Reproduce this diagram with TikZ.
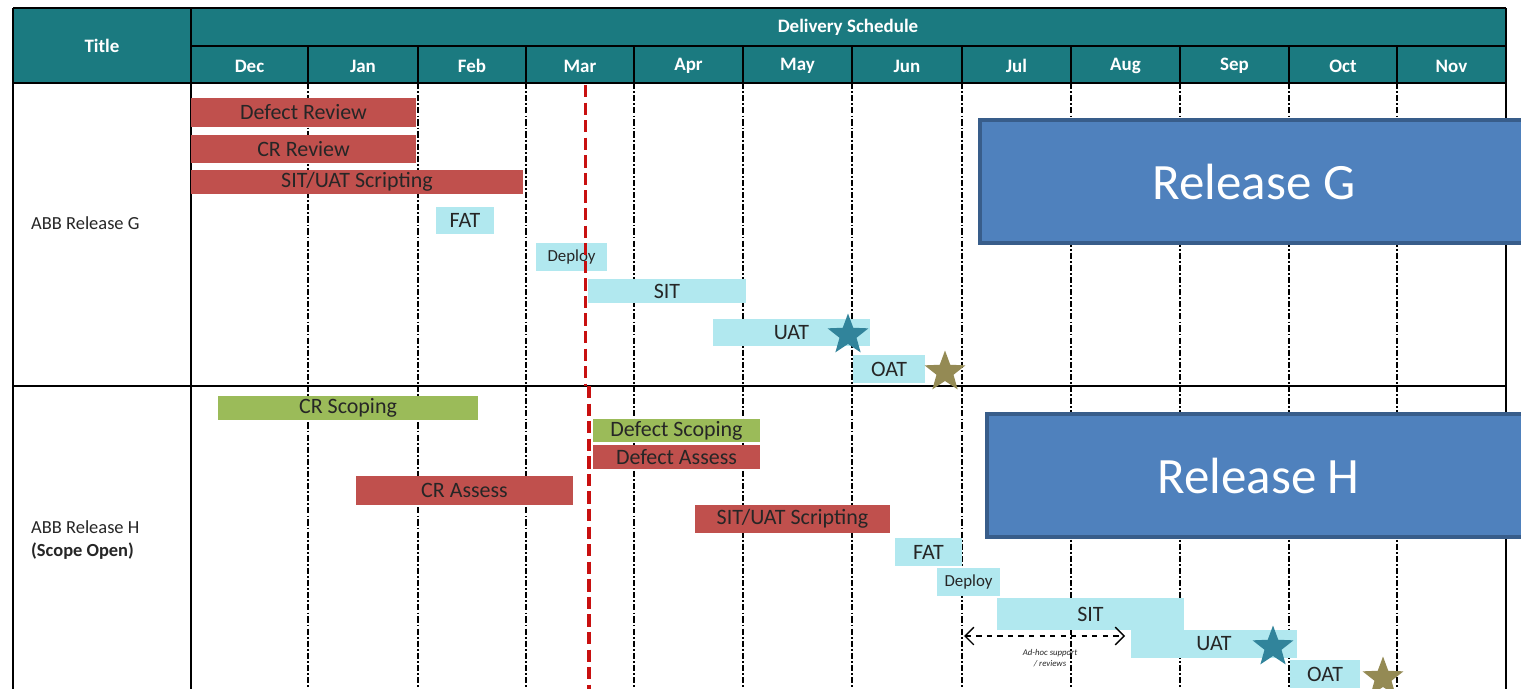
\documentclass[tikz,border=0pt]{standalone}
\usepackage{fontspec}
\setmainfont{Carlito}
\usepackage{tikz}
\usetikzlibrary{shapes.geometric,arrows.meta}

\definecolor{hdrteal}{HTML}{1B7A80}
\definecolor{barred}{HTML}{C0504D}
\definecolor{barcyan}{HTML}{B1E8EF}
\definecolor{bargreen}{HTML}{9BBB59}
\definecolor{relblue}{HTML}{4F81BD}
\definecolor{relborder}{HTML}{385D8A}
\definecolor{starteal}{HTML}{31849B}
\definecolor{starolive}{HTML}{948A54}
\definecolor{txtdark}{HTML}{262626}
\definecolor{todayred}{HTML}{C81010}

\begin{document}
\begin{tikzpicture}[x=0.02cm,y=-0.02cm,
  bar/.style={rectangle,inner sep=0pt,text=txtdark,font=\fontsize{12.5}{14}\selectfont},
  redbar/.style={bar,fill=barred},
  cyanbar/.style={bar,fill=barcyan},
  greenbar/.style={bar,fill=bargreen},
  smalltxt/.style={font=\fontsize{9.6}{11}\selectfont},
  release/.style={rectangle,fill=relblue,draw=relborder,line width=2.3pt,
    text=white,font=\fontsize{29}{32}\selectfont},
  hdrlbl/.style={text=white,font=\bfseries\fontsize{10.8}{12}\selectfont},
  rowlbl/.style={anchor=west,text=txtdark,font=\fontsize{10.5}{12}\selectfont},
  gridline/.style={line width=1pt,dash pattern=on 3.5pt off 1.2pt on 1pt off 1.2pt},
  frame/.style={line width=1.2pt},
  milestone/.style={star,star points=5,star point ratio=2.4,inner sep=0pt,minimum size=0.86cm}]
\clip (0,0) rectangle (1521,689);
\fill[white] (0,0) rectangle (1521,689);

% header
\fill[hdrteal] (13,8) rectangle (1506,83);
\node[hdrlbl] (title) at (102,46) {Title};
\node[hdrlbl] (sched) at (848,27) {Delivery Schedule};
\foreach \m/\xa/\xb in {Dec/191/308,Jan/308/418,Feb/418/526,Mar/526/634,
  Apr/634/743,May/743/852,Jun/852/962,Jul/962/1071,Aug/1071/1180,
  Sep/1180/1289,Oct/1289/1397,Nov/1397/1506}
  \node[hdrlbl] (m\m) at ({(\xa+\xb)/2},66) {\m};
\foreach \xx in {308,418,526,634,743,852,962,1071,1180,1289,1397}
  \draw[frame] (\xx,46) -- (\xx,83);

% grid
\foreach \xx in {308,418,526,634,743,852,962,1071,1180,1289,1397}
  \draw[gridline] (\xx,83) -- (\xx,689);
\draw[frame] (13,8) -- (1506,8);
\draw[frame] (191,46) -- (1506,46);
\draw[frame] (13,83) -- (1506,83);
\draw[frame] (13,386) -- (1506,386);
\draw[frame] (13,8) -- (13,689);
\draw[frame] (191,8) -- (191,689);
\draw[frame] (1506,8) -- (1506,689);

% row labels
\node[rowlbl] (rowg) at (25,223) {ABB Release G};
\node[rowlbl] (rowh) at (25,527) {ABB Release H};
\node[rowlbl,font=\bfseries\fontsize{10.5}{12}\selectfont] (scope) at (25,551) {(Scope Open)};

% release G
\node[redbar,minimum width=4.5cm,minimum height=0.58cm] (drevg) at (303.5,112.5) {Defect Review};
\node[redbar,minimum width=4.5cm,minimum height=0.56cm] (crrevg) at (303.5,149) {CR Review};
\node[redbar,minimum width=6.64cm,minimum height=0.48cm] (scrg) at (357,182) {SIT/UAT Scripting};
\node[cyanbar,minimum width=1.16cm,minimum height=0.54cm] (fatg) at (465,220.5) {FAT};
\node[cyanbar,smalltxt,minimum width=1.42cm,minimum height=0.56cm] (depg) at (571.5,257) {Deploy};
\node[cyanbar,minimum width=3.16cm,minimum height=0.48cm] (sitg) at (667,291) {SIT};
\node[cyanbar,minimum width=3.14cm,minimum height=0.54cm] (uatg) at (791.5,332.5) {UAT};
\node[cyanbar,minimum width=1.44cm,minimum height=0.56cm] (oatg) at (889,369) {OAT};
\node[milestone,fill=starteal] (uatgstar) at (848,335) {};
\node[milestone,fill=starolive] (oatgstar) at (945,372) {};

% release H
\node[greenbar,minimum width=5.2cm,minimum height=0.48cm] (crsch) at (348,408) {CR Scoping};
\node[greenbar,minimum width=3.34cm,minimum height=0.46cm] (dsch) at (676.5,430.5) {Defect Scoping};
\node[redbar,minimum width=3.34cm,minimum height=0.48cm] (dash) at (676.5,457) {Defect Assess};
\node[redbar,minimum width=4.34cm,minimum height=0.58cm] (crash) at (464.5,490.5) {CR Assess};
\node[redbar,minimum width=3.9cm,minimum height=0.56cm] (scrh) at (792.5,519) {SIT/UAT Scripting};
\node[cyanbar,minimum width=1.34cm,minimum height=0.56cm] (fath) at (928.5,552) {FAT};
\node[cyanbar,smalltxt,minimum width=1.26cm,minimum height=0.56cm] (deph) at (968.5,582) {Deploy};
\node[cyanbar,minimum width=3.74cm,minimum height=0.64cm] (sith) at (1090.5,614) {SIT};
\node[cyanbar,minimum width=3.32cm,minimum height=0.56cm] (uath) at (1214,644) {UAT};
\node[cyanbar,minimum width=1.4cm,minimum height=0.56cm] (oath) at (1325,674) {OAT};
\node[milestone,fill=starteal] (uathstar) at (1273,647) {};
\node[milestone,fill=starolive] (oathstar) at (1383,678) {};

% ad-hoc support
\coordinate (adl) at (964,636);
\coordinate (adr) at (1125,636);
\draw[{Straight Barb[length=5pt,width=10pt]}-{Straight Barb[length=5pt,width=10pt]},
  dashed,line width=0.8pt] (adl) -- (adr);
\node[align=center,text=txtdark,font=\itshape\fontsize{5}{6}\selectfont] (adhoc) at (1050,658)
  {Ad-hoc support\\/ reviews};

% today line
\draw[todayred,line width=1.7pt,dash pattern=on 7pt off 3pt] (585,85) -- (585,386);
\draw[todayred,line width=2.6pt,dash pattern=on 7pt off 3pt] (589,386) -- (589,689);

% releases
\node[release,minimum width=10.96cm,minimum height=2.46cm] (relg) at (1254,181.5) {Release G};
\node[release,minimum width=10.86cm,minimum height=2.46cm] (relh) at (1258.5,475.5) {Release H};
\end{tikzpicture}
\end{document}
